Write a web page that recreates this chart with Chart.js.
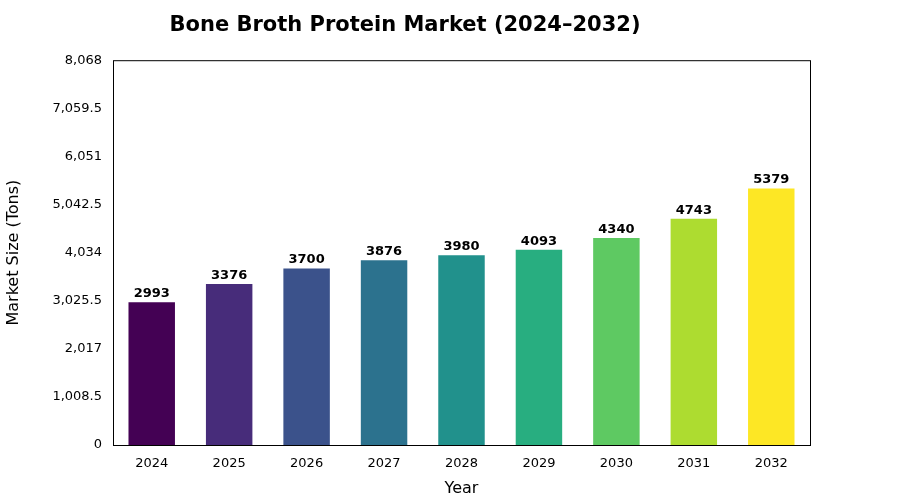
<!DOCTYPE html>
<html>
<head>
<meta charset="UTF-8">
<title>Bone Broth Protein Market</title>
<script src="https://cdn.jsdelivr.net/npm/chart.js"></script>
<style>body{margin:0;background:#fff}</style>
</head>
<body>
<canvas id="c" width="900" height="500"></canvas>
<script>
const years = ['2024','2025','2026','2027','2028','2029','2030','2031','2032'];
const marketSize = [2993, 3376, 3700, 3876, 3980, 4093, 4340, 4743, 5379];
const barColors = ['#440154','#472c7a','#3b528b','#2c728e','#21918c','#28ae80','#5ec962','#addc30','#fde725'];

const frameAndLabels = {
    id: 'frameAndLabels',
    afterDatasetsDraw(chart) {
        const ctx = chart.ctx, a = chart.chartArea;
        ctx.save();
        ctx.strokeStyle = '#000'; ctx.lineWidth = 1;
        ctx.strokeRect(a.left + 0.5, a.top + 0.5, a.right - a.left, a.bottom - a.top);
        ctx.font = 'bold 13px "DejaVu Sans"';
        ctx.fillStyle = '#000'; ctx.textAlign = 'center'; ctx.textBaseline = 'bottom';
        chart.getDatasetMeta(0).data.forEach((bar, i) => {
            ctx.fillText(marketSize[i], bar.x, bar.y - 2);
        });
        ctx.restore();
    }
};

new Chart(document.getElementById('c'), {
    type: 'bar',
    data: { labels: years, datasets: [{ data: marketSize, backgroundColor: barColors, categoryPercentage: 1, barPercentage: 0.6 }] },
    options: {
        responsive: false, animation: false,
        layout: { padding: { right: 90, left: 0, top: 0, bottom: 0 } },
        plugins: {
            legend: { display: false }, tooltip: { enabled: false },
            title: { display: true, text: 'Bone Broth Protein Market (2024–2032)', color: '#000',
                font: { family: 'DejaVu Sans', size: 21, weight: 'bold' }, padding: { top: 13, bottom: 22 } }
        },
        scales: {
            x: {
                grid: { display: false },
                ticks: { color: '#000', font: { family: 'DejaVu Sans', size: 13 } },
                title: { display: true, text: 'Year', color: '#000', font: { family: 'DejaVu Sans', size: 16 }, padding: 2 },
                afterFit(s) { s.height = 55; }
            },
            y: {
                min: 0, max: 8068, grid: { display: false },
                ticks: { stepSize: 1000, color: '#000', font: { family: 'DejaVu Sans', size: 13 } },
                title: { display: true, text: 'Market Size (Tons)', color: '#000', font: { family: 'DejaVu Sans', size: 16 } },
                afterFit(s) { s.width = 113; }
            }
        }
    },
    plugins: [frameAndLabels]
});
</script>
</body>
</html>
